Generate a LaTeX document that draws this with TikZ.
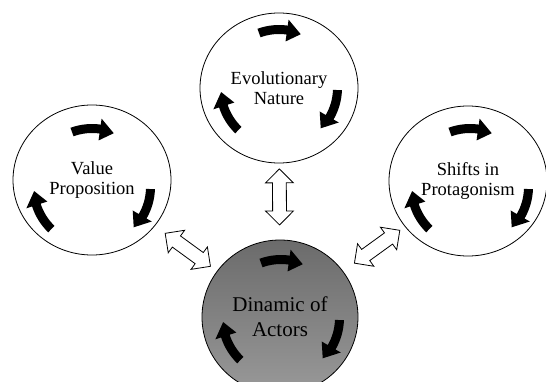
\documentclass[tikz,border=0pt]{standalone}
\usepackage{fontspec}
\setmainfont{Liberation Serif}
\usetikzlibrary{shapes.geometric, shapes.arrows, calc}

% three turning arrows inside a circle (#1 node, #2 shift of the ring)
\newcommand\spin[2]{%
  \foreach \s/\e/\b in {110/68/82,-2/-44/-30,226/184/198}{%
    \fill ($(#1)+(#2)+(\s:63pt)$) arc[start angle=\s,end angle=\b,radius=63pt] -- ($(#1)+(#2)+(\b:69pt)$) -- ($(#1)+(#2)+(\e:58pt)$) -- ($(#1)+(#2)+(\b:47pt)$) -- ($(#1)+(#2)+(\b:54pt)$) arc[start angle=\b,end angle=\s,radius=54pt] -- cycle;}}

\begin{document}
\begin{tikzpicture}[x=1pt,y=1pt, c/.style={ellipse,draw,line width=0.8pt,fill=white,inner sep=0pt,minimum width=158pt,minimum height=150pt,align=center,font=\fontsize{18.5}{20}\selectfont}, dbl/.style={double arrow,draw,line width=0.8pt,fill=white,inner xsep=0pt,inner ysep=6.5pt,minimum height=56pt,double arrow head extend=7pt}]
  \useasboundingbox (0,0) rectangle (546,-382);
  \node[c](evo) at (279,-88){Evolutionary\\Nature};
  \node[c](val) at (92,-180){Value\\Proposition};
  \node[c](shi) at (468,-181){Shifts in\\Protagonism};
  \node[c,minimum width=156pt,minimum height=154pt,top color=black!58,bottom color=black!40,font=\fontsize{21}{25}\selectfont](dyn) at (280,-317){Dinamic of\\Actors};
  \spin{evo}{0,0}
  \spin{val}{0,-7pt}
  \spin{shi}{2pt,-6pt}
  \spin{dyn}{1pt,-1pt}
  \path (evo) -- node[dbl,pos=0.44,sloped]{} (dyn);
  \path (val) -- node[dbl,pos=0.53,sloped]{} (dyn);
  \path (shi) -- node[dbl,pos=0.45,sloped]{} (dyn);
\end{tikzpicture}
\end{document}
